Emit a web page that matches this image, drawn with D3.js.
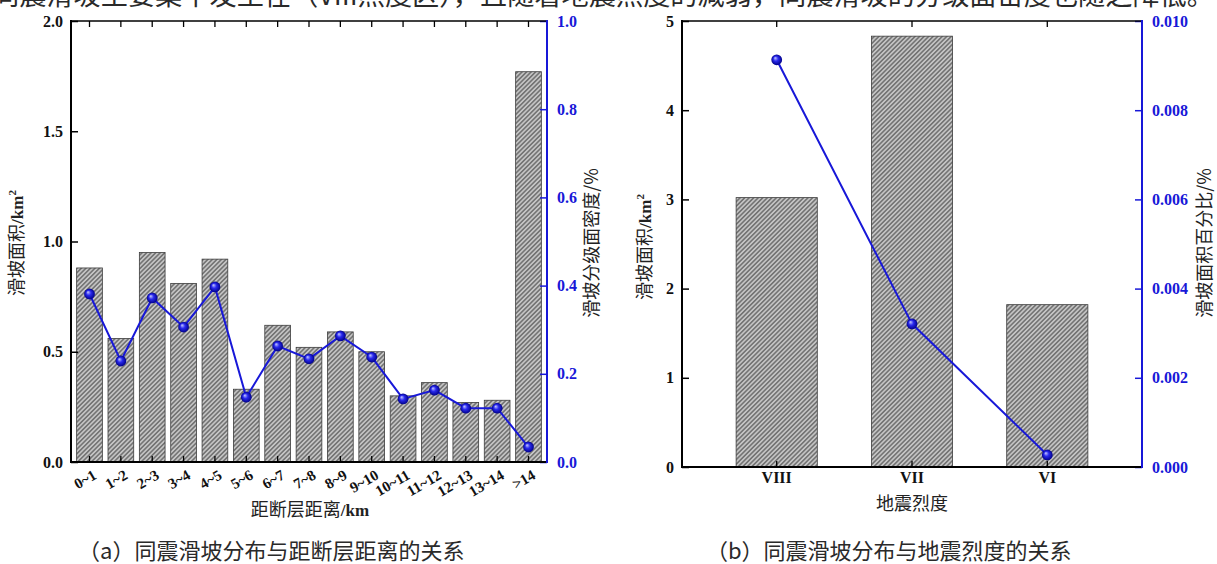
<!DOCTYPE html>
<html lang="zh">
<head>
<meta charset="UTF-8">
<title>同震滑坡分布</title>
<script src="https://d3js.org/d3.v7.min.js"></script>
<style>
  body { margin: 0; background: #fff; }
  svg { display: block; }
  .num { font-family: "Liberation Serif", "Times New Roman", serif; font-weight: bold; font-size: 16px; }
  .cjk { font-family: "Noto Sans CJK SC", sans-serif; font-size: 18px; fill: #222; }
  .cap { font-family: "Noto Sans CJK SC", sans-serif; font-size: 22px; fill: #2a2a2a; }
</style>
</head>
<body>
<div id="chart"></div>
<script>
// (a) distance to fault
var distCats = ["0~1", "1~2", "2~3", "3~4", "4~5", "5~6", "6~7", "7~8", "8~9", "9~10", "10~11", "11~12", "12~13", "13~14", ">14"];
var distArea = [0.88, 0.56, 0.95, 0.81, 0.92, 0.33, 0.62, 0.52, 0.59, 0.50, 0.30, 0.36, 0.27, 0.28, 1.77];
var distDensity = [0.381, 0.229, 0.372, 0.306, 0.397, 0.147, 0.263, 0.234, 0.286, 0.238, 0.143, 0.163, 0.122, 0.122, 0.034];
var distLeftTicks = [0, 0.5, 1.0, 1.5, 2.0];
var distRightTicks = [0, 0.2, 0.4, 0.6, 0.8, 1.0];

// (b) seismic intensity
var intensCats = ["VIII", "VII", "VI"];
var intensArea = [3.02, 4.83, 1.82];
var intensPct = [0.00913, 0.00321, 0.00027];
var intensLeftTicks = [0, 1, 2, 3, 4, 5];
var intensRightTicks = [0, 0.002, 0.004, 0.006, 0.008, 0.010];

var blue = "#1818d8";

var svg = d3.select("#chart").append("svg")
  .attr("width", 1217)
  .attr("height", 564);

var defs = svg.append("defs");

// hatch pattern for the bars
var pat = defs.append("pattern")
  .attr("id", "hatch")
  .attr("patternUnits", "userSpaceOnUse")
  .attr("width", 3.2)
  .attr("height", 3.2)
  .attr("patternTransform", "rotate(45)");
pat.append("rect").attr("width", 3.2).attr("height", 3.2).attr("fill", "#c4c4c4");
pat.append("line").attr("x1", 0.8).attr("y1", 0).attr("x2", 0.8).attr("y2", 3.2)
  .attr("stroke", "#5a5a5a").attr("stroke-width", 1.2);

// shaded ball marker
var grad = defs.append("radialGradient")
  .attr("id", "ball")
  .attr("cx", "50%").attr("cy", "50%").attr("r", "50%")
  .attr("fx", "35%").attr("fy", "32%");
grad.append("stop").attr("offset", "0%").attr("stop-color", "#c8ccff");
grad.append("stop").attr("offset", "45%").attr("stop-color", "#2a2aee");
grad.append("stop").attr("offset", "100%").attr("stop-color", "#00008a");

// clipped line of body text at the very top
svg.append("text")
  .attr("class", "cap")
  .attr("x", -8)
  .attr("y", 5)
  .style("font-size", "27px")
  .attr("textLength", 1222)
  .attr("lengthAdjust", "spacingAndGlyphs")
  .text("同震滑坡主要集中发生在（VIII烈度区），且随着地震烈度的减弱，同震滑坡的分级面密度也随之降低。");

function drawPanel(o) {
  var g = svg.append("g");

  var x = d3.scaleBand().domain(o.cats).range([o.x0, o.x1]).padding(o.pad);
  var yL = d3.scaleLinear().domain([0, o.leftMax]).range([o.y1, o.y0]);
  var yR = d3.scaleLinear().domain([0, o.rightMax]).range([o.y1, o.y0]);

  // bars
  g.selectAll(".bar")
    .data(o.area)
    .enter().append("rect")
    .attr("class", "bar")
    .attr("x", function(d, i) { return x(o.cats[i]); })
    .attr("y", function(d) { return yL(d); })
    .attr("width", x.bandwidth())
    .attr("height", function(d) { return o.y1 - yL(d); })
    .attr("fill", "url(#hatch)")
    .attr("stroke", "#3c3c3c")
    .attr("stroke-width", 0.8);

  // left axis (ticks inward)
  var axL = g.append("g")
    .attr("transform", "translate(" + o.x0 + ",0)")
    .call(d3.axisRight(yL).tickValues(o.leftTicks).tickSize(7).tickFormat(d3.format(o.leftFmt)));
  axL.select(".domain").remove();
  axL.selectAll(".tick line").attr("stroke", "#000").attr("stroke-width", 1.5);
  axL.selectAll(".tick text")
    .attr("class", "num")
    .attr("x", -8)
    .attr("text-anchor", "end")
    .attr("fill", "#111");

  // right axis (blue, ticks inward)
  var axR = g.append("g")
    .attr("transform", "translate(" + o.x1 + ",0)")
    .call(d3.axisLeft(yR).tickValues(o.rightTicks).tickSize(7).tickFormat(d3.format(o.rightFmt)));
  axR.select(".domain").remove();
  axR.selectAll(".tick line").attr("stroke", blue).attr("stroke-width", 1.5);
  axR.selectAll(".tick text")
    .attr("class", "num")
    .attr("x", 10)
    .attr("text-anchor", "start")
    .attr("fill", blue);

  // bottom axis ticks (inward) and top mirror ticks
  var axB = g.append("g")
    .attr("transform", "translate(0," + o.y1 + ")")
    .call(d3.axisTop(x).tickSize(6).tickFormat(""));
  axB.select(".domain").remove();
  axB.selectAll(".tick line").attr("stroke", "#000").attr("stroke-width", 1.3);

  var axT = g.append("g")
    .attr("transform", "translate(0," + o.y0 + ")")
    .call(d3.axisBottom(x).tickSize(6).tickFormat(""));
  axT.select(".domain").remove();
  axT.selectAll(".tick line").attr("stroke", "#000").attr("stroke-width", 1.3);

  // frame lines
  g.append("line").attr("x1", o.x0).attr("x2", o.x1).attr("y1", o.y0).attr("y2", o.y0)
    .attr("stroke", "#000").attr("stroke-width", 1.5);
  g.append("line").attr("x1", o.x0).attr("x2", o.x1).attr("y1", o.y1).attr("y2", o.y1)
    .attr("stroke", "#000").attr("stroke-width", 2);
  g.append("line").attr("x1", o.x0).attr("x2", o.x0).attr("y1", o.y0 - 1).attr("y2", o.y1 + 1)
    .attr("stroke", "#000").attr("stroke-width", 2);
  g.append("line").attr("x1", o.x1).attr("x2", o.x1).attr("y1", o.y0 - 1).attr("y2", o.y1 + 1)
    .attr("stroke", blue).attr("stroke-width", 2);

  // category labels
  if (o.rotate) {
    g.selectAll(".xlab")
      .data(o.cats)
      .enter().append("text")
      .attr("class", "num")
      .style("font-size", "15px")
      .attr("text-anchor", "end")
      .attr("fill", "#111")
      .attr("transform", function(d) {
        return "translate(" + (x(d) + x.bandwidth() / 2 + 8) + "," + (o.y1 + 16) + ") rotate(-30)";
      })
      .text(function(d) { return d; });
  } else {
    g.selectAll(".xlab")
      .data(o.cats)
      .enter().append("text")
      .attr("class", "num")
      .attr("text-anchor", "middle")
      .attr("fill", "#111")
      .attr("x", function(d) { return x(d) + x.bandwidth() / 2; })
      .attr("y", o.y1 + 16)
      .text(function(d) { return d; });
  }

  // line + markers
  var line = d3.line()
    .x(function(d, i) { return x(o.cats[i]) + x.bandwidth() / 2; })
    .y(function(d) { return yR(d); });
  g.append("path")
    .datum(o.pct)
    .attr("fill", "none")
    .attr("stroke", blue)
    .attr("stroke-width", 2)
    .attr("d", line);
  g.selectAll(".dot")
    .data(o.pct)
    .enter().append("circle")
    .attr("cx", function(d, i) { return x(o.cats[i]) + x.bandwidth() / 2; })
    .attr("cy", function(d) { return yR(d); })
    .attr("r", 5.4)
    .attr("fill", "url(#ball)");

  // axis titles
  var tl = g.append("text")
    .attr("class", "cjk")
    .attr("text-anchor", "middle")
    .attr("transform", "translate(" + o.leftTitleX + "," + o.leftTitleY + ") rotate(-90)");
  tl.append("tspan").text("滑坡面积");
  tl.append("tspan").attr("class", "num").style("font-size", "17px").text("/km");
  tl.append("tspan").attr("class", "num").style("font-size", "11px").attr("dy", -7).text("2");

  var tr = g.append("text")
    .attr("class", "cjk")
    .attr("text-anchor", "middle")
    .attr("transform", "translate(" + o.rightTitleX + "," + o.rightTitleY + ") rotate(-90)");
  tr.append("tspan").text(o.rightTitle);
  tr.append("tspan").text("/%");

  var tx = g.append("text")
    .attr("class", "cjk")
    .attr("text-anchor", "middle")
    .attr("x", o.xTitleX)
    .attr("y", o.xTitleY);
  tx.append("tspan").text(o.xTitle);
  if (o.xUnit) tx.append("tspan").attr("class", "num").style("font-size", "17px").text(o.xUnit);

  svg.append("text")
    .attr("class", "cap")
    .attr("x", o.capX)
    .attr("y", 559)
    .text(o.caption);
}

drawPanel({
  cats: distCats, area: distArea, pct: distDensity,
  x0: 71, x1: 547, y0: 21, y1: 462, pad: 0.18,
  leftMax: 2, rightMax: 1,
  leftTicks: distLeftTicks, rightTicks: distRightTicks,
  leftFmt: ".1f", rightFmt: ".1f",
  rotate: true,
  leftTitleX: 23, leftTitleY: 243,
  rightTitleX: 598, rightTitleY: 243, rightTitle: "滑坡分级面密度",
  xTitle: "距断层距离", xUnit: "/km", xTitleX: 310, xTitleY: 516,
  caption: "（a）同震滑坡分布与距断层距离的关系", capX: 78
});

drawPanel({
  cats: intensCats, area: intensArea, pct: intensPct,
  x0: 682, x1: 1142, y0: 21, y1: 467, pad: 0.4,
  leftMax: 5, rightMax: 0.01,
  leftTicks: intensLeftTicks, rightTicks: intensRightTicks,
  leftFmt: "d", rightFmt: ".3f",
  rotate: false,
  leftTitleX: 651, leftTitleY: 247,
  rightTitleX: 1211, rightTitleY: 243, rightTitle: "滑坡面积百分比",
  xTitle: "地震烈度", xUnit: null, xTitleX: 912, xTitleY: 510,
  caption: "（b）同震滑坡分布与地震烈度的关系", capX: 706
});
</script>
</body>
</html>
